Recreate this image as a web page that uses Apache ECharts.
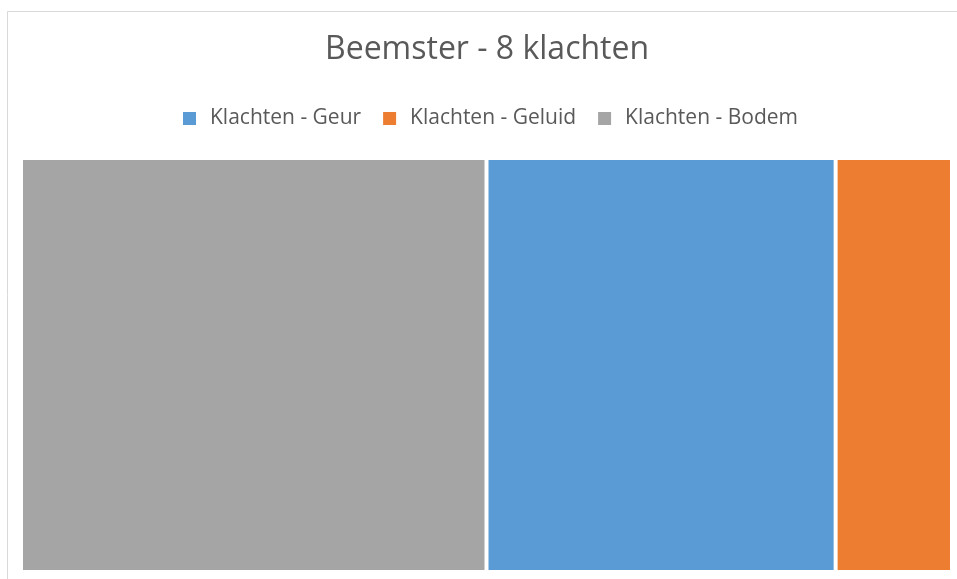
<!DOCTYPE html>
<html>
<head>
<meta charset="utf-8">
<script src="https://cdn.jsdelivr.net/npm/echarts@6/dist/echarts.min.js"></script>
<style>html,body{margin:0;padding:0;background:#fff}#c{width:957px;height:579px}</style>
</head>
<body>
<div id="c"></div>
<script>
const titleText = 'Beemster - 8 klachten';
const categories = ['Klachten - Geur', 'Klachten - Geluid', 'Klachten - Bodem'];
const values = [3, 1, 4];
const colors = ['#5B9BD5', '#ED7D31', '#A5A5A5'];

const chart = echarts.init(document.getElementById('c'), null, {renderer: 'canvas'});
const FONT = '"Open Sans", sans-serif';

const treeData = categories.map((c, i) => ({
  name: c, value: values[i], itemStyle: {color: colors[i]}
}));

const legendSeries = categories.map((c, i) => ({
  type: 'pie', name: c, data: [], showEmptyCircle: false, color: colors[i],
  silent: true
}));

chart.setOption({
  animation: false,
  graphic: [{
    type: 'rect', silent: true, z: -10,
    shape: {x: 7.5, y: 11.5, width: 1000, height: 1000},
    style: {fill: '#fff', stroke: '#D9D9D9', lineWidth: 1}
  }],
  title: {
    text: titleText, left: 320, top: 29,
    padding: 5,
    textStyle: {fontFamily: FONT, fontSize: 32, fontWeight: 'normal', color: '#595959'}
  },
  legend: {
    data: categories, top: 103, left: 178,
    padding: 5,
    icon: 'rect', itemWidth: 13, itemHeight: 13, itemGap: 22,
    textStyle: {fontFamily: FONT, fontSize: 21, color: '#595959', padding: [0, 0, 0, 9]}
  },
  series: [{
    type: 'treemap', name: 'Klachten',
    left: 23, top: 160, right: 7, bottom: 9,
    width: 927, height: 410,
    roam: false, nodeClick: false, breadcrumb: {show: false},
    label: {show: false}, upperLabel: {show: false},
    itemStyle: {borderWidth: 0, gapWidth: 4, borderColor: '#fff'},
    levels: [{itemStyle: {borderWidth: 0, gapWidth: 4, borderColor: '#fff'}}],
    data: treeData
  }].concat(legendSeries)
});
</script>
</body>
</html>
